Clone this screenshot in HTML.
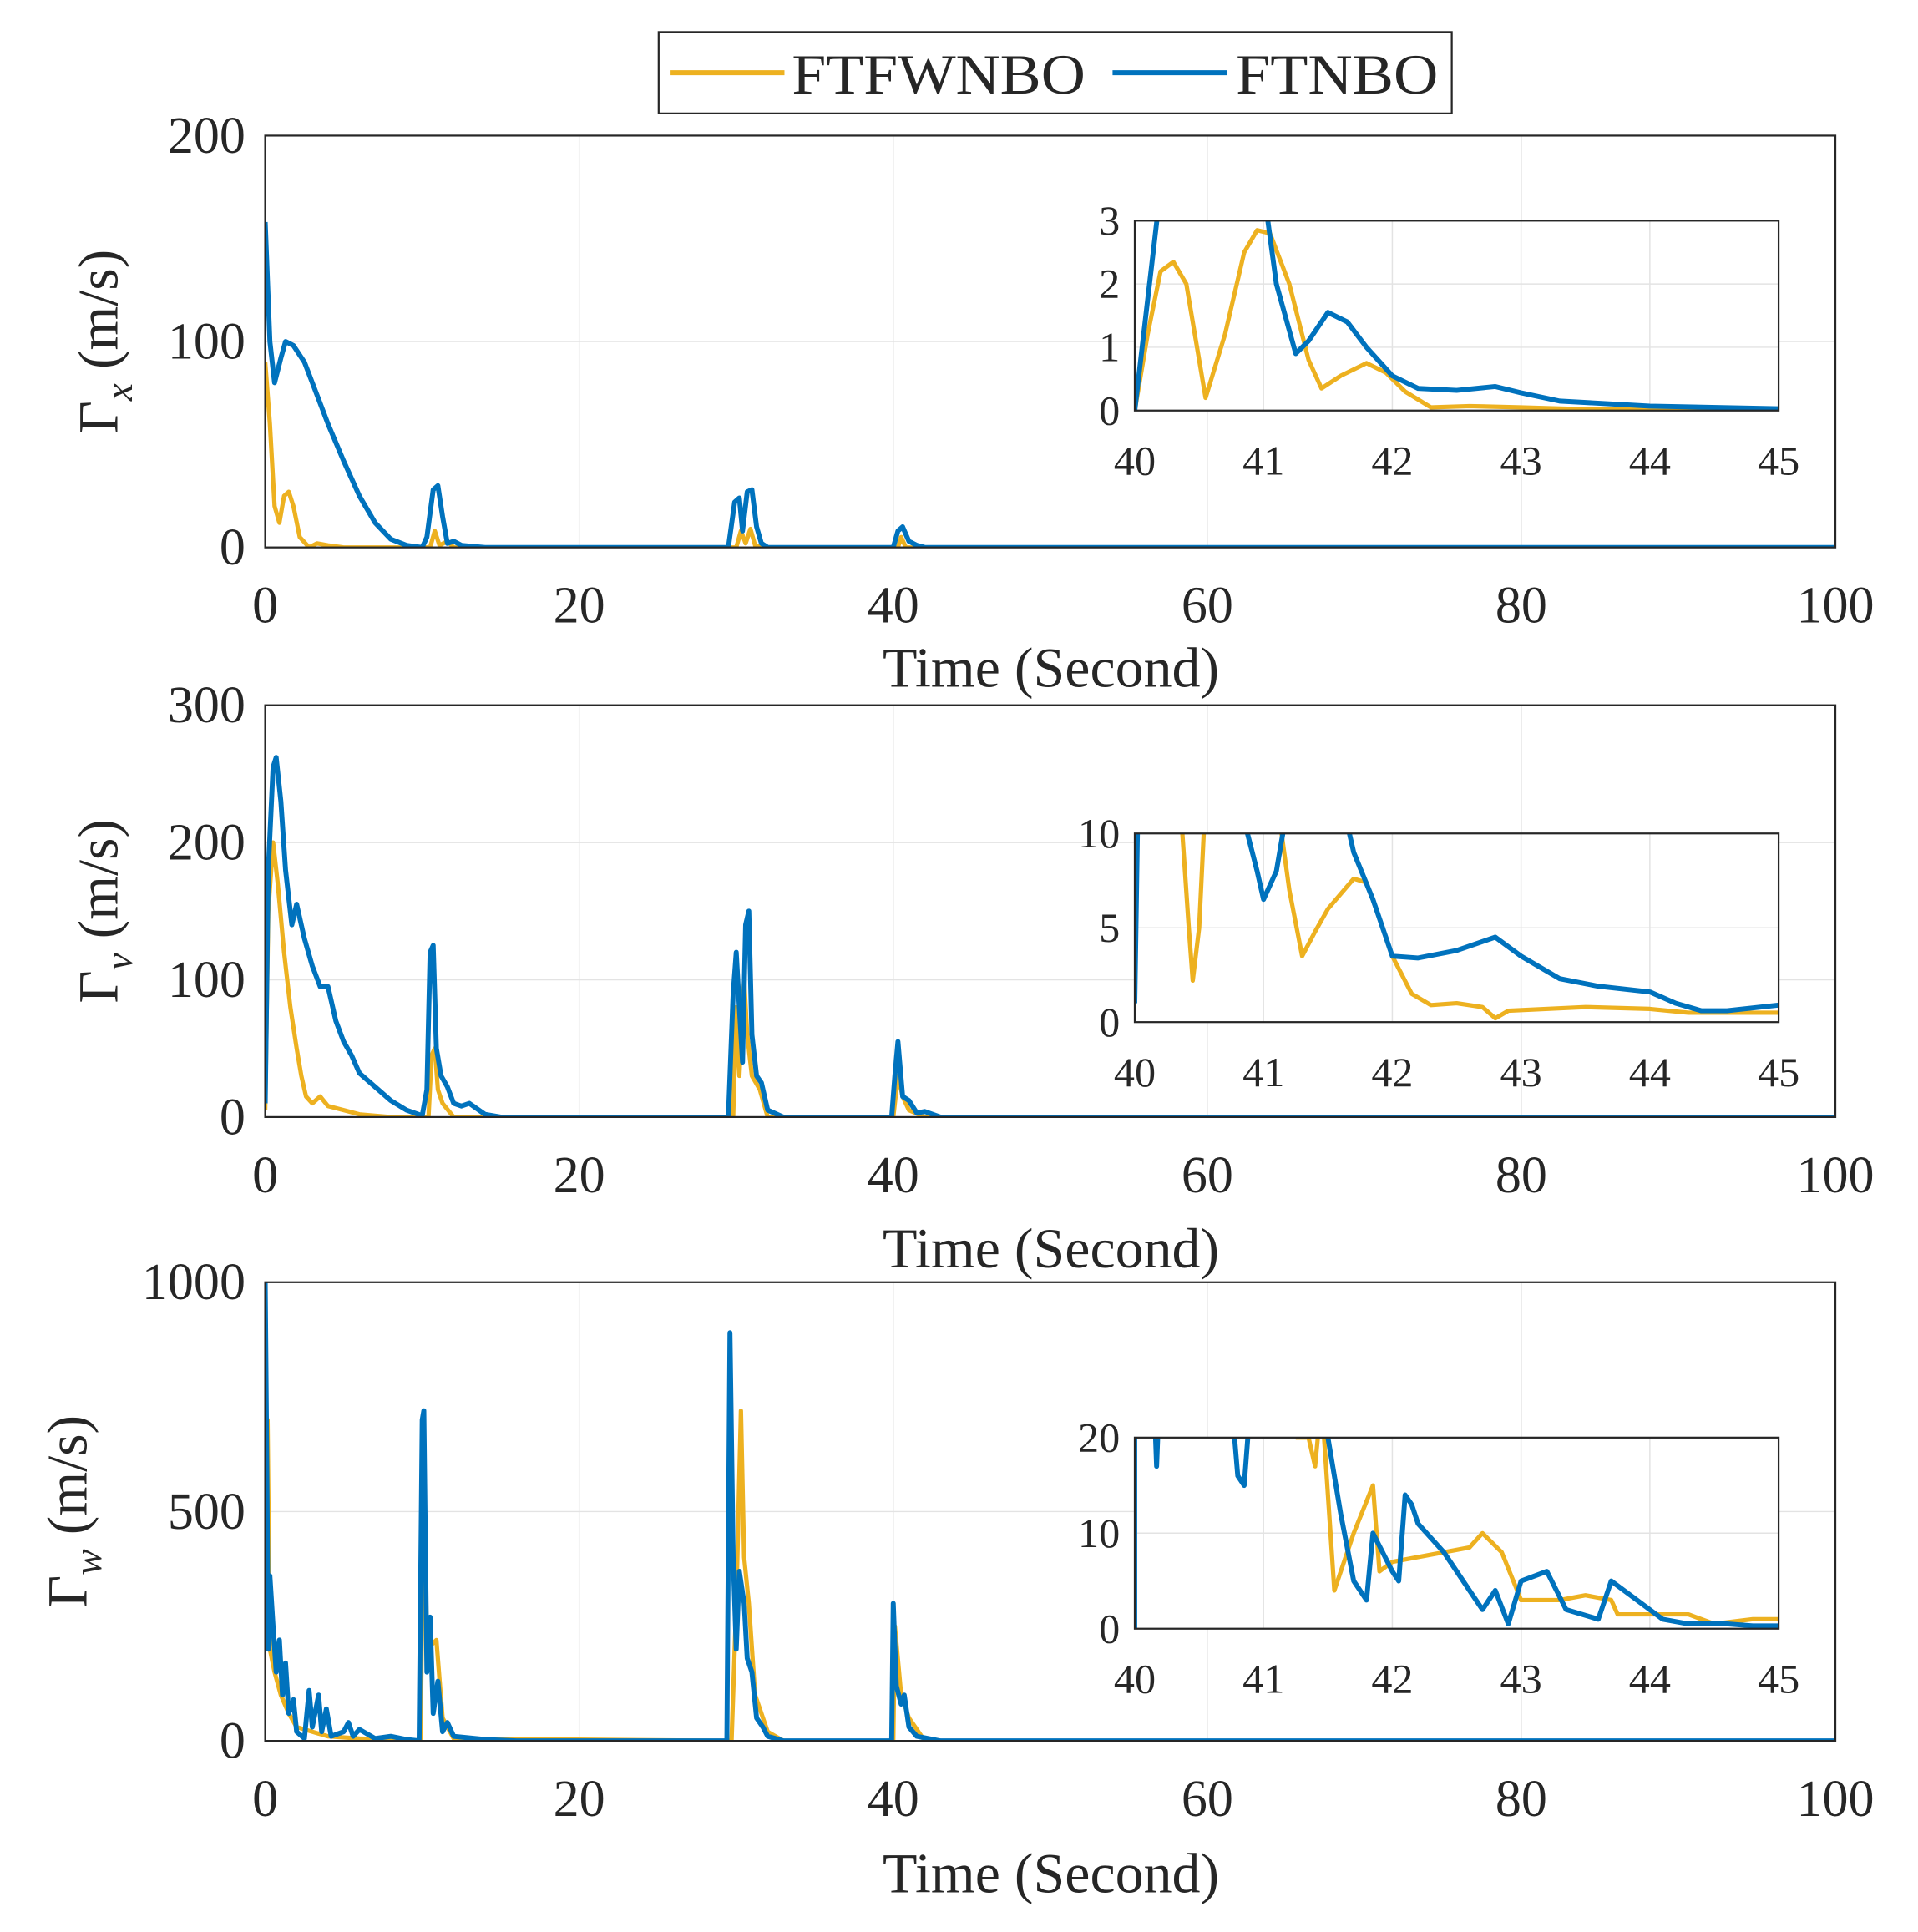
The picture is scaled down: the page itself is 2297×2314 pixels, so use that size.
<!DOCTYPE html>
<html><head><meta charset="utf-8"><style>
html,body{margin:0;padding:0;background:#fff}
svg{display:block}
text{font-family:"Liberation Serif",serif;fill:#262626}
</style></head><body>
<svg id="fig" xmlns="http://www.w3.org/2000/svg" width="2297" height="2314" viewBox="0 0 1555 1567" preserveAspectRatio="none">
<g>
<rect x="534" y="26" width="643" height="66" fill="#fff" stroke="#262626" stroke-width="1.5"/>
<line x1="543" y1="59" x2="636" y2="59" stroke="#EDB120" stroke-width="4"/>
<text x="642" y="76" font-size="46" textLength="238" lengthAdjust="spacingAndGlyphs">FTFWNBO</text>
<line x1="902" y1="59" x2="995" y2="59" stroke="#0072BD" stroke-width="4"/>
<text x="1002" y="76" font-size="46" textLength="164" lengthAdjust="spacingAndGlyphs">FTNBO</text>
</g>
</svg>
<script>
// ---- Panel 1 (Gamma x) ----
const p1BlueT=[0,0.3,0.6,1,1.3,1.8,2.5,3,4,5,6,7,8,9,10,10.3,10.7,11,11.3,11.6,12,12.5,14,29.5,29.9,30.2,30.4,30.7,31,31.3,31.6,32,40,40.3,40.6,41,41.5,42,100];
const p1BlueV=[158,100,80,92,100,98,90,80,60,42,25,12,4,1,0,5,28,30,15,2,3,1,0,0,22,24,8,27,28,10,2,0,0,8,10,3,1,0,0];
const p1OrT=[0,0.3,0.6,0.9,1.2,1.5,1.8,2.2,2.8,3.3,4,5,10.5,10.8,11.1,11.6,12,30,30.3,30.6,30.9,31.2,32,40.3,40.5,40.8,100];
const p1OrV=[90,60,20,12,25,27,20,5,0,2,1,0,0,8,1,3,0,0,8,2,9,1,0,0,5,0,0];
const i1BlueT=[40,40.2,40.5,40.8,41,41.1,41.25,41.35,41.5,41.65,41.8,42,42.2,42.5,42.8,43,43.3,44,45];
const i1BlueV=[0,3.5,6,5,3.5,2,0.9,1.1,1.55,1.4,1.0,0.55,0.35,0.32,0.38,0.28,0.15,0.07,0.03];
const i1OrT=[40,40.1,40.2,40.3,40.4,40.5,40.55,40.7,40.85,40.95,41.05,41.2,41.35,41.45,41.6,41.8,41.95,42.1,42.3,42.6,43,43.5,45];
const i1OrV=[0,1.2,2.2,2.35,2.0,0.8,0.2,1.2,2.5,2.85,2.8,2.0,0.8,0.35,0.55,0.75,0.6,0.3,0.05,0.07,0.05,0.02,0];
// ---- Panel 2 (Gamma v) ----
const p2BlueT=[0,0.2,0.5,0.7,1,1.3,1.7,2,2.5,3,3.5,4,4.5,5,5.5,6,7,8,9,10,10.3,10.5,10.7,10.9,11.2,11.6,12,12.5,13,14,15,29.5,29.8,30,30.2,30.4,30.6,30.8,31,31.3,31.6,32,33,39.9,40.1,40.3,40.6,41,41.5,42,43,100];
const p2BlueV=[10,180,255,262,230,180,140,155,130,110,95,95,70,55,45,32,22,12,5,1,20,120,125,50,30,22,10,8,10,2,0,0,90,120,80,40,140,150,60,30,25,5,0,0,30,55,15,12,3,4,0,0];
const p2OrT=[0,0.2,0.5,0.8,1.2,1.6,2,2.3,2.6,3,3.5,4,5,6,7,8,10.4,10.6,10.8,11,11.3,12,29.8,30,30.2,30.5,30.7,31,31.5,32,40,40.3,40.6,41,42,100];
const p2OrV=[5,150,200,170,120,80,50,30,15,10,15,8,5,2,1,0,0,45,50,20,10,0,0,80,30,100,60,30,20,0,0,30,15,5,0,0];
const i2BlueT=[40,40.03,40.1,40.8,40.95,41,41.1,41.2,41.6,41.7,41.85,42,42.2,42.5,42.8,43,43.3,43.6,44,44.2,44.4,44.6,45];
const i2BlueV=[1,14,16,12,8,6.5,8,12,12,9,6.5,3.5,3.4,3.8,4.5,3.5,2.3,1.9,1.6,1.0,0.6,0.6,0.9];
const i2OrT=[40.3,40.35,40.42,40.45,40.5,40.55,40.6,41.05,41.1,41.2,41.3,41.4,41.5,41.7,41.8,41.9,42,42.15,42.3,42.5,42.7,42.8,42.9,43.5,44,44.3,45];
const i2OrV=[16,12,5,2.2,5,12,16,16,12,7,3.5,4.8,6,7.6,7.4,5.5,3.5,1.5,0.9,1.0,0.8,0.2,0.6,0.8,0.7,0.5,0.5];
// ---- Panel 3 (Gamma w) ----
const p3BlueT=[0,0.1,0.2,0.3,0.5,0.7,0.9,1.1,1.3,1.5,1.8,2,2.5,2.8,3,3.4,3.6,3.9,4.2,5,5.3,5.6,6,7,8,9,9.8,10,10.1,10.3,10.5,10.7,11,11.3,11.6,12,14,16,29.4,29.6,29.8,30,30.2,30.5,30.7,31,31.3,31.7,32,33,39.9,40,40.2,40.5,40.7,41,41.5,43,100];
const p3BlueV=[1000,600,200,360,250,150,220,100,170,60,90,20,5,110,30,100,20,70,10,20,40,10,25,5,10,3,0,700,720,150,270,60,130,20,40,10,3,0,0,890,400,200,370,300,180,150,50,30,10,0,0,300,120,80,100,30,10,0,0];
const p3OrT=[0,0.15,0.3,0.6,1,1.5,2,3,4,6,9.9,10.1,10.3,10.9,11.3,12,29.7,30,30.3,30.5,30.8,31.2,32,33,40,40.1,40.5,41,42,100];
const p3OrV=[550,700,200,150,100,60,30,20,10,5,0,650,200,220,50,5,0,300,720,400,300,100,20,0,0,250,100,50,0,0];
const i3BlueT=[40,40,40.15,40.17,40.19,40.75,40.8,40.85,40.9,41.45,41.6,41.7,41.8,41.85,42,42.05,42.1,42.15,42.2,42.4,42.6,42.7,42.8,42.9,43,43.2,43.35,43.6,43.7,43.9,44.1,44.3,44.6,44.8,45];
const i3BlueV=[0,24,24,17,24,24,16,15,24,24,12,5,3,10,6,5,14,13,11,8,4,2,4,0.5,5,6,2,1,5,3,1,0.5,0.5,0.3,0.3];
const i3OrT=[41.25,41.35,41.4,41.45,41.55,41.7,41.85,41.9,42,42.2,42.4,42.6,42.7,42.85,43,43.3,43.5,43.7,43.75,44,44.3,44.5,44.8,45];
const i3OrV=[20,20,17,24,4,10,15,6,7,7.5,8,8.5,10,8,3,3,3.5,3,1.5,1.5,1.5,0.5,1,1];

const X0=215,X1=1488,IX0=920,IX1=1442;
const BLUE='#0072BD',OR='#EDB120',NS='http://www.w3.org/2000/svg';
const svg=document.getElementById('fig');
function mk(tag,attrs,parent){const e=document.createElementNS(NS,tag);for(const k in attrs)e.setAttribute(k,attrs[k]);(parent||svg).appendChild(e);return e;}
let clipN=0;
function axes(x0,x1,y0,y1,xmin,xmax,ymin,ymax,xt,yt,fs,main,name){
  const g=mk('g',{});
  
  
  mk('rect',{x:x0,y:y0,width:x1-x0,height:y1-y0,fill:'#fff'},g);
  const sx=v=>x0+(v-xmin)/(xmax-xmin)*(x1-x0), sy=v=>y1-(v-ymin)/(ymax-ymin)*(y1-y0);
  xt.forEach(t=>{mk('line',{x1:sx(t),x2:sx(t),y1:y0,y2:y1,stroke:'#e3e3e3','stroke-width':1},g);
    const tx=mk('text',{x:sx(t),y:y1+(main?61:52),'font-size':fs,'text-anchor':'middle'},g);tx.textContent=t;
    
    });
  yt.forEach(t=>{mk('line',{x1:x0,x2:x1,y1:sy(t),y2:sy(t),stroke:'#e3e3e3','stroke-width':1},g);
    const tx=mk('text',{x:x0-(main?16:12),y:sy(t)+fs*0.33,'font-size':fs,'text-anchor':'end'},g);tx.textContent=t;
    
    });
  const id='c'+(clipN++);
  const cp=mk('clipPath',{id:id},g);mk('rect',{x:x0,y:y0,width:x1-x0,height:y1-y0},cp);
  return {g,sx,sy,id,box:()=>{mk('rect',{x:x0,y:y0,width:x1-x0,height:y1-y0,fill:'none',stroke:'#262626','stroke-width':1.5},g);}};
}
function series(ax,T,V,color,w,name){
  const d=T.map((t,i)=>(i?'L':'M')+ax.sx(t).toFixed(1)+','+ax.sy(V[i]).toFixed(1)).join('');
  const p=mk('path',{d:d,fill:'none',stroke:color,'stroke-width':w,'stroke-linejoin':'round','clip-path':'url(#'+ax.id+')'},ax.g);
  
  
}
function ylabel(x,y,sub,name){
  const t=mk('text',{x:0,y:0,'font-size':46,'text-anchor':'middle',transform:`translate(${x},${y}) rotate(-90)`});
  t.innerHTML='Γ<tspan font-style="italic" font-size="32" dy="12">'+sub+'</tspan><tspan dy="-12">  (m/s)</tspan>';
  
  
}
function xlabel(y){
  const t=mk('text',{x:852,y:y,'font-size':46,'text-anchor':'middle'});t.textContent='Time (Second)';
  
  
}
const XT=[0,20,40,60,80,100],IXT=[40,41,42,43,44,45];
function panel(y0,y1,ymax,yt,iy0,iy1,iymax,iyt,pb,po,ib,io,n){
  const a=axes(X0,X1,y0,y1,0,100,0,ymax,XT,yt,42,true,'panel-'+n);
  series(a,po[0],po[1],OR,3.5,'ftfwnbo-line-'+n);
  series(a,pb[0],pb[1],BLUE,4,'ftnbo-line-'+n);
  a.box();
  const b=axes(IX0,IX1,iy0,iy1,40,45,0,iymax,IXT,iyt,34,false,'inset-'+n);
  series(b,io[0],io[1],OR,3.5,'inset-ftfwnbo-'+n);
  series(b,ib[0],ib[1],BLUE,4,'inset-ftnbo-'+n);
  b.box();
}
panel(110,444,200,[0,100,200],179,333,3,[0,1,2,3],[p1BlueT,p1BlueV],[p1OrT,p1OrV],[i1BlueT,i1BlueV],[i1OrT,i1OrV],1);
panel(572,906,300,[0,100,200,300],676,829,10,[0,5,10],[p2BlueT,p2BlueV],[p2OrT,p2OrV],[i2BlueT,i2BlueV],[i2OrT,i2OrV],2);
panel(1040,1412,1000,[0,500,1000],1166,1321,20,[0,10,20],[p3BlueT,p3BlueV],[p3OrT,p3OrV],[i3BlueT,i3BlueV],[i3OrT,i3OrV],3);
xlabel(557);xlabel(1028);xlabel(1535);
ylabel(95,277,'x','y-axis-title-gamma-x');
ylabel(95,739,'v','y-axis-title-gamma-v');
ylabel(70,1226,'w','y-axis-title-gamma-w');
</script>
</body></html>
